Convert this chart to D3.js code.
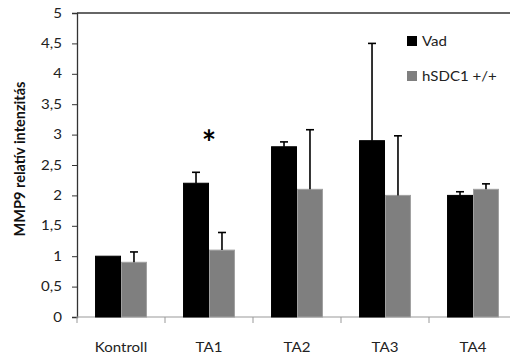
<!DOCTYPE html>
<html>
<head>
<meta charset="utf-8">
<script src="https://cdn.jsdelivr.net/npm/d3@7/dist/d3.min.js"></script>
<style>
  html, body { margin: 0; padding: 0; background: #fff; }
  svg { display: block; }
  text { font-family: Lato, "Open Sans", sans-serif; }
</style>
</head>
<body>
<svg id="chart" width="510" height="358"></svg>
<script>
// MMP9 relative intensity per treatment group
const categories = ["Kontroll", "TA1", "TA2", "TA3", "TA4"];
const seriesNames = ["Vad", "hSDC1 +/+"];
const vadValues = [1.0, 2.2, 2.8, 2.9, 2.0];
const vadErrors = [0.0, 0.18, 0.08, 1.6, 0.06];
const hsdcValues = [0.9, 1.1, 2.1, 2.0, 2.1];
const hsdcErrors = [0.17, 0.29, 0.98, 0.98, 0.09];
const yTicks = [0, 0.5, 1, 1.5, 2, 2.5, 3, 3.5, 4, 4.5, 5];
const significant = ["TA1"];

const colors = { "Vad": "#000000", "hSDC1 +/+": "#7f7f7f" };
const strokes = { "Vad": "#000000", "hSDC1 +/+": "#a0a0a0" };
const textWiden = 1.16; // horizontal stretch applied to labels

const svg = d3.select("#chart");
const plotLeft = 77, plotRight = 517, plotTop = 13, plotBottom = 317;

const x0 = d3.scaleBand().domain(categories).range([plotLeft, plotRight]).paddingInner(0.41).paddingOuter(0.205);
const x1 = d3.scaleBand().domain(seriesNames).range([0, x0.bandwidth()]);
const y = d3.scaleLinear().domain([0, 5]).range([plotBottom, plotTop]);

const rows = categories.map((c, i) => ({
  cat: c,
  vals: [
    { s: "Vad", v: vadValues[i], e: vadErrors[i] },
    { s: "hSDC1 +/+", v: hsdcValues[i], e: hsdcErrors[i] }
  ]
}));

// top frame line
svg.append("line")
  .attr("x1", plotLeft).attr("x2", 510)
  .attr("y1", y(5)).attr("y2", y(5))
  .attr("stroke", "#333").attr("stroke-width", 1.3);

// y axis
const yAxis = svg.append("g")
  .attr("transform", `translate(${plotLeft},0)`)
  .call(d3.axisLeft(y).tickValues(yTicks).tickSize(5).tickPadding(10)
    .tickFormat(d => String(d).replace(".", ",")));
yAxis.select(".domain").attr("stroke", "#333").attr("stroke-width", 1.3);
yAxis.selectAll(".tick line").attr("stroke", "#333");
yAxis.selectAll(".tick text")
  .attr("x", 0)
  .attr("transform", `translate(-15,0) scale(${textWiden},1)`)
  .attr("font-size", 13)
  .attr("fill", "#222");

// x axis with ticks between the groups
const xAxisG = svg.append("g").attr("transform", `translate(0,${plotBottom})`);
xAxisG.append("line")
  .attr("x1", plotLeft).attr("x2", 510)
  .attr("stroke", "#999").attr("stroke-width", 1.2);
const step = x0.step();
xAxisG.selectAll("line.sep")
  .data(categories)
  .join("line")
  .attr("class", "sep")
  .attr("x1", (d) => x0(d) - x0.paddingOuter() * step)
  .attr("x2", (d) => x0(d) - x0.paddingOuter() * step)
  .attr("y1", 0).attr("y2", 6)
  .attr("stroke", "#999");
xAxisG.selectAll("text")
  .data(categories)
  .join("text")
  .attr("transform", d => `translate(${x0(d) + x0.bandwidth() / 2},35) scale(${textWiden},1)`)
  .attr("text-anchor", "middle")
  .attr("font-size", 13)
  .attr("fill", "#222")
  .text(d => d);

// bars
const groups = svg.append("g").selectAll("g")
  .data(rows)
  .join("g")
  .attr("transform", d => `translate(${x0(d.cat)},0)`);

groups.selectAll("rect")
  .data(d => d.vals)
  .join("rect")
  .attr("x", d => x1(d.s) + 0.5)
  .attr("width", x1.bandwidth() - 1)
  .attr("y", d => y(d.v))
  .attr("height", d => y(0) - y(d.v))
  .attr("fill", d => colors[d.s])
  .attr("stroke", d => strokes[d.s])
  .attr("stroke-width", 1);

// upper error bars
const errs = groups.selectAll("g.err")
  .data(d => d.vals.filter(v => v.e > 0))
  .join("g")
  .attr("class", "err");
errs.append("line")
  .attr("x1", d => x1(d.s) + x1.bandwidth() / 2)
  .attr("x2", d => x1(d.s) + x1.bandwidth() / 2)
  .attr("y1", d => y(d.v))
  .attr("y2", d => y(d.v + d.e))
  .attr("stroke", "#000").attr("stroke-width", 1.6);
errs.append("line")
  .attr("x1", d => x1(d.s) + x1.bandwidth() / 2 - 4)
  .attr("x2", d => x1(d.s) + x1.bandwidth() / 2 + 4)
  .attr("y1", d => y(d.v + d.e))
  .attr("y2", d => y(d.v + d.e))
  .attr("stroke", "#000").attr("stroke-width", 1.6);

// significance marker
svg.selectAll("text.sig")
  .data(significant)
  .join("text")
  .attr("class", "sig")
  .attr("x", d => x0(d) + x0.bandwidth() / 2)
  .attr("y", 155)
  .attr("text-anchor", "middle")
  .attr("font-size", 34)
  .attr("font-weight", "bold")
  .attr("fill", "#000")
  .text("*");

// y axis title
svg.append("text")
  .attr("transform", "translate(25,159) rotate(-90)")
  .attr("text-anchor", "middle")
  .attr("font-size", 14.5)
  .attr("font-weight", "bold")
  .attr("fill", "#111")
  .text("MMP9 relatív intenzitás");

// legend
const legend = svg.append("g").attr("transform", "translate(407,36)");
const li = legend.selectAll("g")
  .data(seriesNames)
  .join("g")
  .attr("transform", (d, i) => `translate(0,${i * 35})`);
li.append("rect")
  .attr("width", 10).attr("height", 10)
  .attr("fill", d => colors[d]);
li.append("text")
  .attr("transform", `translate(15,10) scale(${textWiden},1)`)
  .attr("font-size", 13)
  .attr("fill", "#222")
  .text(d => d);
</script>
</body>
</html>
